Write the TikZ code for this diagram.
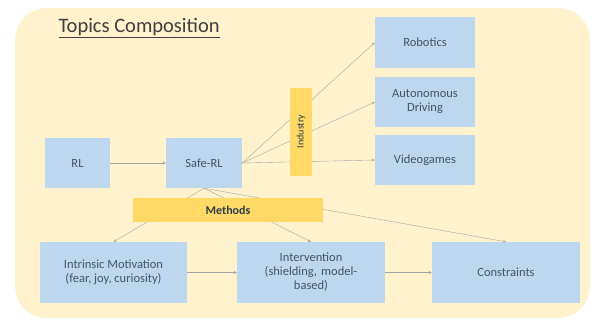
\documentclass[tikz,border=0pt]{standalone}
\usepackage{fontspec}
\setmainfont{Carlito}
\usepackage{tikz}
\usetikzlibrary{shapes.geometric, arrows, positioning}
\definecolor{bgpeach}{HTML}{FFF2CC}
\definecolor{boxblue}{HTML}{BDD7EE}
\definecolor{tagyellow}{HTML}{FFD966}
\definecolor{textblue}{HTML}{44546A}
\definecolor{linegray}{HTML}{A5A5A5}
\tikzset{
    topic/.style={rectangle, align=center, fill=boxblue, text=textblue, font=\fontsize{12.5}{14}\selectfont, inner sep=2pt},
    tag/.style={rectangle, align=center, fill=tagyellow, text=textblue!70!black, font=\fontsize{12}{14}\selectfont\bfseries, inner sep=1pt},
    arrow/.style={thin, draw=linegray, ->, >=stealth}
}

\begin{document}
\begin{tikzpicture}[x=1pt, y=-1pt]
    \useasboundingbox (0,0) rectangle (597,325);
    % Background
    \fill[bgpeach, rounded corners=32pt] (15,8) rectangle (590,318);
    \node[anchor=west, text=black!75, font=\fontsize{20.5}{22}\selectfont] (title) at (55,28) {\underline{Topics Composition}};

    % Topic boxes
    \node[topic, minimum width=65pt, minimum height=50pt] (rl) at (77.5,163) {RL};
    \node[topic, minimum width=76pt, minimum height=50pt] (saferl) at (204,163) {Safe-RL};
    \node[topic, minimum width=100pt, minimum height=51pt] (robotics) at (425,42.5) {Robotics};
    \node[topic, minimum width=100pt, minimum height=50pt] (driving) at (425,102) {Autonomous\\Driving};
    \node[topic, minimum width=100pt, minimum height=50pt] (games) at (425,160) {Videogames};
    \node[topic, minimum width=147pt, minimum height=61pt] (intrinsic) at (113.5,272.5) {Intrinsic Motivation\\(fear, joy, curiosity)};
    \node[topic, minimum width=148pt, minimum height=61pt, text width=130pt] (intervention) at (311,272.5) {Intervention\\(shielding, model-\\based)};
    \node[topic, minimum width=148pt, minimum height=61pt] (constraints) at (506,272.5) {Constraints};

    % Connectors
    \draw[arrow] (rl) -- (saferl);
    \draw[arrow] (saferl.east) -- (robotics.west);
    \draw[arrow] (saferl.east) -- (driving.west);
    \draw[arrow] (saferl.east) -- (games.west);
    \draw[arrow] (saferl.south) -- (intrinsic.north);
    \draw[arrow] (saferl.south) -- (intervention.north);
    \draw[arrow] (saferl.south) -- (constraints.north);
    \draw[arrow] (intrinsic) -- (intervention);
    \draw[arrow] (intervention) -- (constraints);

    % Tags on top
    \node[tag, rotate=90, minimum width=88pt, minimum height=22pt, font=\fontsize{10}{12}\selectfont] (industry) at (301,131.5) {Industry};
    \node[tag, minimum width=190pt, minimum height=24pt] (methods) at (228,210) {Methods};
\end{tikzpicture}
\end{document}
